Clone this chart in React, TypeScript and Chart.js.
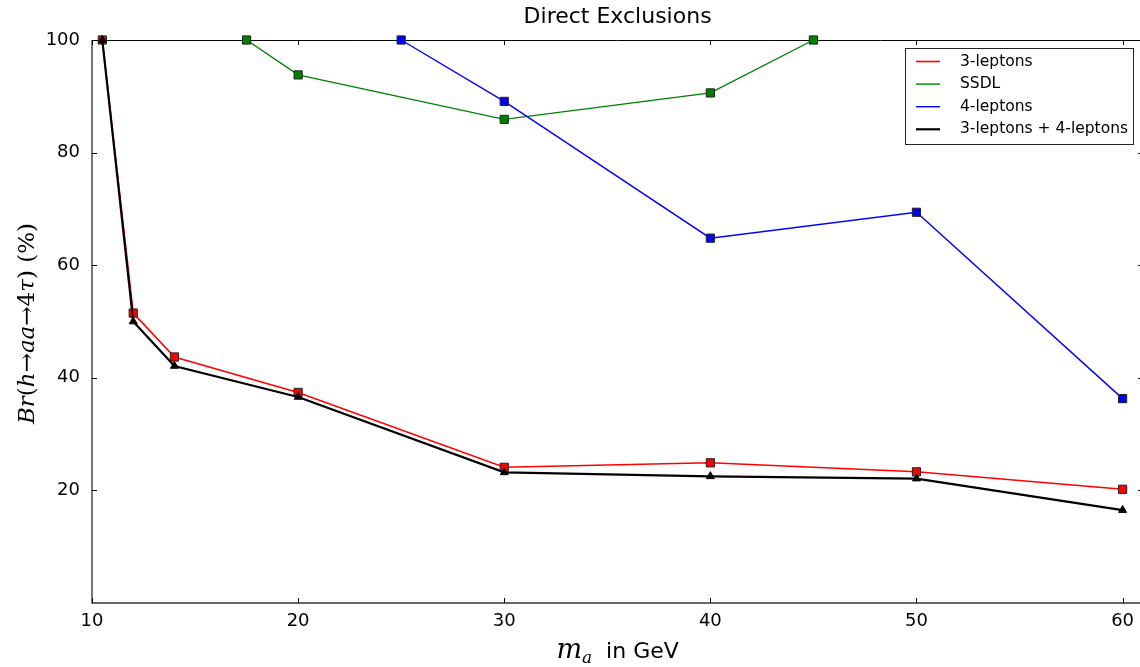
import React, { useEffect, useRef } from "react";
import { Chart, registerables } from "chart.js";
Chart.register(...registerables);

// ---- data ----
const massLeptons3 = [10.5, 12, 14, 20, 30, 40, 50, 60];
const brLeptons3 = [100, 51.5, 43.7, 37.4, 24.1, 24.9, 23.3, 20.2];
const massSSDL = [17.5, 20, 30, 40, 45];
const brSSDL = [100, 93.8, 85.9, 90.6, 100];
const massLeptons4 = [25, 30, 40, 50, 60];
const brLeptons4 = [100, 89.1, 64.8, 69.4, 36.3];
const massCombined = [10.5, 12, 14, 20, 30, 40, 50, 60];
const brCombined = [100, 50.0, 42.1, 36.6, 23.2, 22.5, 22.1, 16.5];
const xTickValues = [10, 20, 30, 40, 50, 60];
const yTickValues = [20, 40, 60, 80, 100];
const seriesLabels = ["3-leptons", "SSDL", "4-leptons", "3-leptons + 4-leptons"];
const titleText = "Direct Exclusions";

const pts = (xs: number[], ys: number[]) => xs.map((x, i) => ({ x, y: ys[i] }));

const SANS = '"DejaVu Sans", sans-serif';
const SERIF = '"DejaVu Serif", serif';

const decorPlugin = {
  id: "decor",
  beforeDatasetsDraw(chart: any) {
    const { ctx, chartArea: a, scales } = chart;
    ctx.save();
    ctx.lineCap = "butt";
    ctx.strokeStyle = "#000";
    ctx.lineWidth = 1;
    ctx.beginPath();
    ctx.moveTo(a.left, a.top + 0.5);
    ctx.lineTo(a.right, a.top + 0.5);
    ctx.moveTo(a.right - 0.5, a.top);
    ctx.lineTo(a.right - 0.5, a.bottom);
    ctx.stroke();
    ctx.strokeStyle = "#333";
    ctx.lineWidth = 1.5;
    ctx.beginPath();
    ctx.moveTo(a.left, a.bottom);
    ctx.lineTo(a.right, a.bottom);
    ctx.stroke();
    ctx.strokeStyle = "#777";
    ctx.lineWidth = 2;
    ctx.beginPath();
    ctx.moveTo(a.left, a.top);
    ctx.lineTo(a.left, a.bottom + 0.75);
    ctx.stroke();
    ctx.strokeStyle = "#000";
    ctx.lineWidth = 1;
    ctx.beginPath();
    for (const v of xTickValues) {
      const px = Math.round(scales.x.getPixelForValue(v)) + 0.5;
      ctx.moveTo(px, a.bottom);
      ctx.lineTo(px, a.bottom - 5);
      ctx.moveTo(px, a.top);
      ctx.lineTo(px, a.top + 5);
    }
    for (const v of yTickValues) {
      const py = Math.round(scales.y.getPixelForValue(v)) + 0.5;
      ctx.moveTo(a.left, py);
      ctx.lineTo(a.left + 5, py);
      ctx.moveTo(a.right, py);
      ctx.lineTo(a.right - 5, py);
    }
    ctx.stroke();
    ctx.restore();
  },
  afterDraw(chart: any) {
    const { ctx, chartArea: a } = chart;
    const cx = (a.left + a.right) / 2;
    ctx.save();
    ctx.fillStyle = "#000";
    // title
    ctx.font = `22px ${SANS}`;
    ctx.textAlign = "center";
    ctx.textBaseline = "middle";
    ctx.fillText(titleText, cx, 17);

    // x label: m_a in GeV
    ctx.textAlign = "left";
    ctx.textBaseline = "alphabetic";
    const mFont = `italic 27px ${SERIF}`;
    const subFont = `italic 17px ${SERIF}`;
    const restFont = `22px ${SANS}`;
    ctx.font = mFont;
    const wm = ctx.measureText("m").width;
    ctx.font = subFont;
    const wa = ctx.measureText("a").width;
    ctx.font = restFont;
    const wr = ctx.measureText("  in GeV").width;
    let xs = cx - (wm + wa + wr) / 2;
    const base = 658;
    ctx.font = mFont;
    ctx.fillText("m", xs, base);
    xs += wm;
    ctx.font = subFont;
    ctx.fillText("a", xs, base + 5);
    xs += wa;
    ctx.font = restFont;
    ctx.fillText("  in GeV", xs, base);

    // y label
    const segs: [string, boolean][] = [
      ["B", true], ["r", true], ["(", false], ["h", true], ["\u2192", false],
      ["a", true], ["a", true], ["\u2192", false], ["4", false], ["\u03c4", true],
      [")", false], [" ", false], ["(", false], ["%", false], [")", false],
    ];
    const fs = 23;
    const fontFor = (it: boolean) => (it ? `italic ${fs}px ${SERIF}` : `${fs}px ${SERIF}`);
    let total = 0;
    for (const [t, it] of segs) {
      ctx.font = fontFor(it);
      total += ctx.measureText(t).width;
    }
    ctx.translate(28, (a.top + a.bottom) / 2 + 2);
    ctx.rotate(-Math.PI / 2);
    let p = -total / 2;
    ctx.textBaseline = "middle";
    for (const [t, it] of segs) {
      ctx.font = fontFor(it);
      ctx.fillText(t, p, 0);
      p += ctx.measureText(t).width;
    }
    ctx.setTransform(1, 0, 0, 1, 0, 0);

    // legend
    const lx = 905.5, ly = 48.5, lw = 228, lh = 96;
    ctx.fillStyle = "#fff";
    ctx.fillRect(lx, ly, lw, lh);
    ctx.strokeStyle = "#222";
    ctx.lineWidth = 1;
    ctx.strokeRect(lx, ly, lw, lh);
    ctx.font = `15.5px ${SANS}`;
    ctx.textBaseline = "middle";
    ctx.textAlign = "left";
    chart.data.datasets.forEach((ds: any, i: number) => {
      const ry = 61.5 + i * 22.6;
      ctx.strokeStyle = ds.borderColor;
      ctx.lineWidth = ds.borderWidth;
      ctx.beginPath();
      ctx.moveTo(916, ry);
      ctx.lineTo(940, ry);
      ctx.stroke();
      ctx.fillStyle = "#000";
      ctx.fillText(ds.label, 960, ry);
    });
    ctx.restore();
  },
};

export default function App() {
  const ref = useRef<HTMLCanvasElement>(null);
  useEffect(() => {
    document.body.style.margin = "0";
    const canvas = ref.current!;
    const mk = (i: number, xs: number[], ys: number[], color: string, order: number) => ({
      label: seriesLabels[i],
      data: pts(xs, ys),
      borderColor: color,
      backgroundColor: color,
      borderWidth: 1.4,
      pointStyle: "rect",
      pointRadius: 5.8,
      pointBackgroundColor: color,
      pointBorderColor: "#222",
      pointBorderWidth: 1,
      order,
      clip: false,
    });
    const chart = new Chart(canvas, {
      type: "line",
      data: {
        datasets: [
          { ...mk(0, massLeptons3, brLeptons3, "#ff0000", 3), borderWidth: 1.6 },
          mk(1, massSSDL, brSSDL, "#008000", 2),
          mk(2, massLeptons4, brLeptons4, "#0000ff", 1),
          {
            ...mk(3, massCombined, brCombined, "#000000", 0),
            borderWidth: 2.2,
            pointStyle: "triangle",
            pointRadius: 4.6,
            pointBorderColor: "#000",
          },
        ],
      },
      options: {
        animation: false,
        responsive: false,
        devicePixelRatio: 1,
        layout: { padding: { top: 40, right: 4, left: 0, bottom: 0 } },
        plugins: { legend: { display: false }, title: { display: false }, tooltip: { enabled: false } },
        elements: { line: { tension: 0 } },
        scales: {
          x: {
            type: "linear",
            min: 10,
            max: 61,
            afterBuildTicks: (s: any) => {
              s.ticks = xTickValues.map((v) => ({ value: v }));
            },
            afterFit: (s: any) => {
              s.height = 64;
              s.paddingLeft = 0;
              s.paddingRight = 0;
            },
            grid: { display: false, drawTicks: false },
            border: { display: false },
            ticks: {
              color: "#000",
              font: { family: "DejaVu Sans", size: 18 },
              padding: 8,
              maxRotation: 0,
              autoSkip: false,
            },
          },
          y: {
            type: "linear",
            min: 0,
            max: 100,
            afterBuildTicks: (s: any) => {
              s.ticks = yTickValues.map((v) => ({ value: v }));
            },
            afterFit: (s: any) => {
              s.width = 92;
              s.paddingTop = 0;
              s.paddingBottom = 0;
            },
            grid: { display: false, drawTicks: false },
            border: { display: false },
            ticks: {
              color: "#000",
              font: { family: "DejaVu Sans", size: 18 },
              padding: 12,
              autoSkip: false,
            },
          },
        },
      },
      plugins: [decorPlugin],
    });
    return () => chart.destroy();
  }, []);
  return (
    <div style={{ position: "fixed", left: 0, top: 0, width: 1140, height: 667, overflow: "hidden", background: "#fff" }}>
      <canvas ref={ref} width={1150} height={667} style={{ display: "block", width: 1150, height: 667 }} />
    </div>
  );
}
